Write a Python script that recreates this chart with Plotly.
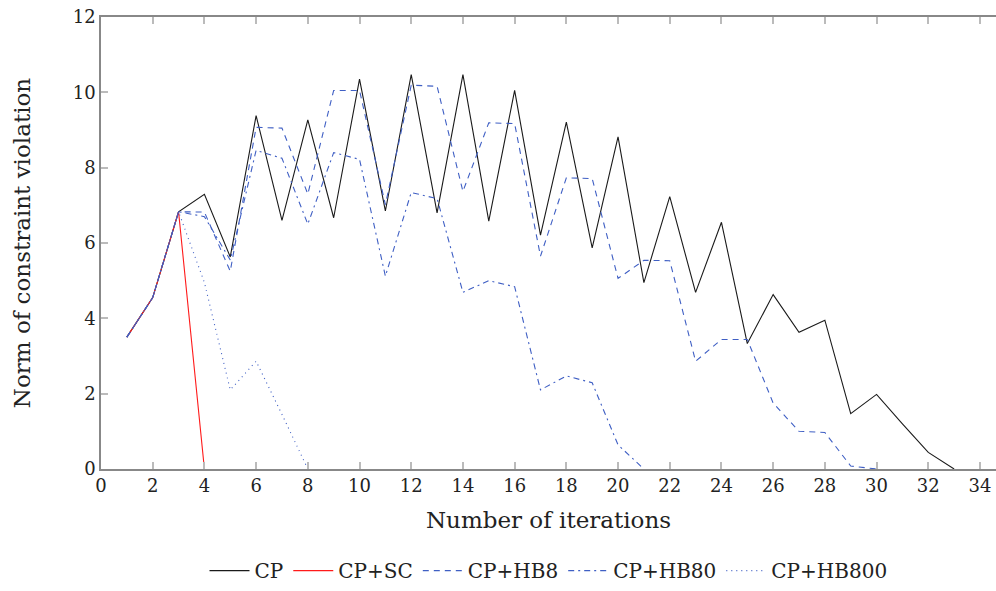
import plotly.graph_objects as go

iters = list(range(1, 34))

cp = [3.5, 4.55, 6.83, 7.29, 5.63, 9.38, 6.6, 9.27, 6.67, 10.35, 6.85, 10.47, 6.8, 10.47,
      6.58, 10.05, 6.21, 9.21, 5.87, 8.82, 4.95, 7.23, 4.69, 6.55, 3.33, 4.63, 3.63, 3.95,
      1.47, 1.98, 1.2, 0.44, 0.0]
cp_sc = [3.5, 4.55, 6.83, 0.0]
cp_hb8 = [3.5, 4.55, 6.83, 6.82, 5.25, 9.07, 9.05, 7.3, 10.05, 10.05, 7.02, 10.19, 10.16, 7.37,
          9.19, 9.17, 5.65, 7.73, 7.71, 5.06, 5.54, 5.53, 2.86, 3.44, 3.44, 1.75, 1.0, 0.97,
          0.08, 0.0]
cp_hb80 = [3.5, 4.55, 6.83, 6.7, 5.55, 8.46, 8.25, 6.5, 8.4, 8.22, 5.12, 7.34, 7.18, 4.69,
           5.0, 4.84, 2.1, 2.47, 2.29, 0.64, 0.0]
cp_hb800 = [3.5, 4.55, 6.83, 4.95, 2.1, 2.86, 1.45, 0.0]

BLUE = "#3f5fc4"
FONT = "DejaVu Serif, Liberation Serif, serif"

fig = go.Figure()
series = [
    ("CP", cp, "#1a1a1a", "solid"),
    ("CP+SC", cp_sc, "#ff1a1a", "solid"),
    ("CP+HB8", cp_hb8, BLUE, "6px,5px"),
    ("CP+HB80", cp_hb80, BLUE, "6px,4px,2px,4px"),
    ("CP+HB800", cp_hb800, BLUE, "1px,4px"),
]
for name, vals, col, dash in series:
    fig.add_trace(go.Scatter(
        x=iters[:len(vals)], y=vals, name=name, mode="lines",
        line=dict(color=col, width=1.1, dash=dash),
    ))

fig.update_layout(
    width=996, height=591,
    margin=dict(l=101, r=0, t=17, b=122),
    plot_bgcolor="white", paper_bgcolor="white",
    font=dict(family=FONT, size=18, color="#222"),
    showlegend=True,
    legend=dict(orientation="h", x=0.5, xanchor="center", y=-0.268, yanchor="bottom",
                font=dict(size=20, family=FONT), itemwidth=40,
                tracegroupgap=0, bgcolor="rgba(0,0,0,0)"),
)
fig.update_xaxes(
    range=[0, 34.62], tickmode="array", tickvals=list(range(0, 35, 2)),
    showgrid=False, zeroline=False,
    showline=True, linecolor="#888", linewidth=1.5, mirror="ticks",
    ticks="inside", ticklen=7, tickcolor="#bbb", tickwidth=1.5,
    tickfont=dict(size=18, family=FONT, color="#222"),
    title=dict(text="Number of iterations", font=dict(size=23, family=FONT, color="#222"), standoff=17),
)
fig.update_yaxes(
    range=[0, 12], tickmode="array", tickvals=list(range(0, 13, 2)),
    showgrid=False, zeroline=False,
    showline=True, linecolor="#888", linewidth=1.5,
    ticks="inside", ticklen=7, tickcolor="#bbb", tickwidth=1.5,
    tickfont=dict(size=18, family=FONT, color="#222"),
    title=dict(text="Norm of constraint violation", font=dict(size=23, family=FONT, color="#222"), standoff=36),
)

fig.write_html("out.html")
